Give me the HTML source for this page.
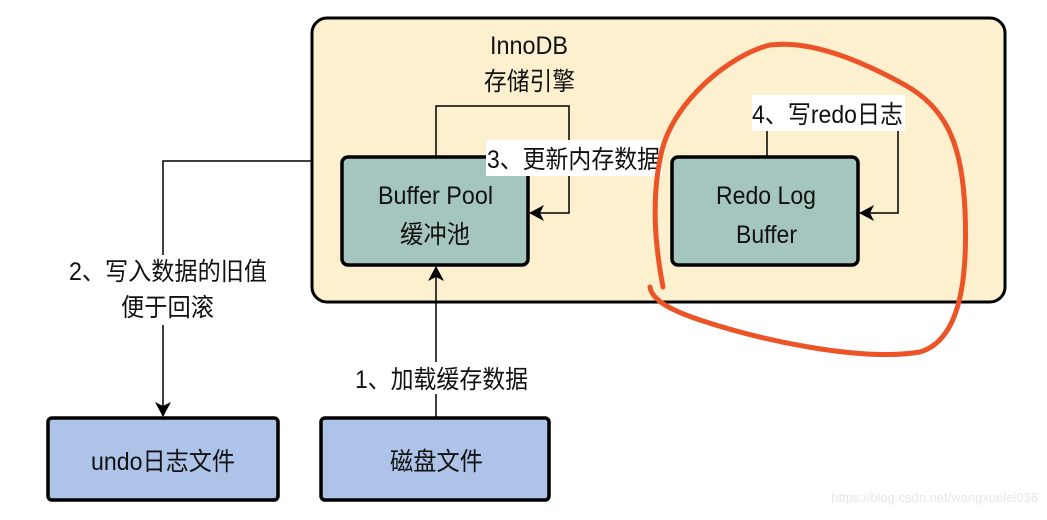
<!DOCTYPE html>
<html><head><meta charset="utf-8"><style>
body{margin:0;background:#fff;width:1047px;height:515px;overflow:hidden}
text{font-family:"Liberation Sans","Noto Sans CJK SC",sans-serif;fill:#111}
</style></head><body>
<svg width="1047" height="515" viewBox="0 0 1047 515">
<defs><marker id="a" markerWidth="16" markerHeight="16" refX="14" refY="8" orient="auto" markerUnits="userSpaceOnUse"><path d="M0,0 L15,8 L0,16 L4,8 Z" fill="#000"/></marker></defs>
<rect x="312" y="18" width="693" height="284" rx="15" fill="#fcf0cf" stroke="#000" stroke-width="3"/>
<text x="490" y="54" font-size="25" textLength="78" lengthAdjust="spacingAndGlyphs">InnoDB</text>
<text x="484" y="90" font-size="25" textLength="91" lengthAdjust="spacingAndGlyphs">存储引擎</text>
<polyline points="436,157 436,106 569,106 569,213 530,213" fill="none" stroke="#000" stroke-width="1.5" marker-end="url(#a)"/>
<rect x="342" y="157" width="186" height="108" rx="6" fill="#a5c6bf" stroke="#000" stroke-width="3.5"/>
<text x="378" y="204" font-size="25" textLength="115" lengthAdjust="spacingAndGlyphs">Buffer Pool</text>
<text x="400" y="243" font-size="25" textLength="70" lengthAdjust="spacingAndGlyphs">缓冲池</text>
<rect x="486" y="140" width="176" height="36" fill="#fff"/>
<text x="487" y="168" font-size="25" textLength="173" lengthAdjust="spacingAndGlyphs">3、更新内存数据</text>
<polyline points="767,157 767,131" fill="none" stroke="#000" stroke-width="1.5"/>
<polyline points="898,131 898,213 860,213" fill="none" stroke="#000" stroke-width="1.5" marker-end="url(#a)"/>
<rect x="672" y="157" width="186" height="108" rx="6" fill="#a5c6bf" stroke="#000" stroke-width="3.5"/>
<text x="716" y="204" font-size="25" textLength="100" lengthAdjust="spacingAndGlyphs">Redo Log</text>
<text x="736" y="243" font-size="25" textLength="61" lengthAdjust="spacingAndGlyphs">Buffer</text>
<rect x="752" y="95" width="153" height="36" fill="#fff"/>
<text x="752" y="123" font-size="25" textLength="151" lengthAdjust="spacingAndGlyphs">4、写redo日志</text>
<polyline points="312,161 163,161 163,416" fill="none" stroke="#000" stroke-width="1.5" marker-end="url(#a)"/>
<rect x="62" y="255" width="210" height="70" fill="#fff"/>
<text x="69" y="280" font-size="25" textLength="198" lengthAdjust="spacingAndGlyphs">2、写入数据的旧值</text>
<text x="121" y="316" font-size="25" textLength="93" lengthAdjust="spacingAndGlyphs">便于回滚</text>
<line x1="436" y1="418" x2="436" y2="267" stroke="#000" stroke-width="1.5" marker-end="url(#a)"/>
<rect x="352" y="362" width="180" height="32" fill="#fff"/>
<text x="355" y="388" font-size="25" textLength="173" lengthAdjust="spacingAndGlyphs">1、加载缓存数据</text>
<rect x="48" y="418" width="230" height="82" rx="4" fill="#aec3e8" stroke="#000" stroke-width="3.5"/>
<text x="91" y="470" font-size="25" textLength="144" lengthAdjust="spacingAndGlyphs">undo日志文件</text>
<rect x="321" y="418" width="228" height="82" rx="4" fill="#aec3e8" stroke="#000" stroke-width="3.5"/>
<text x="390" y="470" font-size="25" textLength="93" lengthAdjust="spacingAndGlyphs">磁盘文件</text>
<path d="M663,287 C656,250 650,200 662,150 C675,100 730,55 770,45 C810,40 860,60 905,85 C950,110 962,150 965,210 C968,280 960,340 920,352 C860,362 760,340 700,320 C670,310 652,300 650,287" fill="none" stroke="#ec5428" stroke-width="5" stroke-linecap="round"/>
<text x="1038" y="502" font-size="13" text-anchor="end" style="fill:#e6e6e6">https://blog.csdn.net/wangxuelei036</text>
</svg>
</body></html>
